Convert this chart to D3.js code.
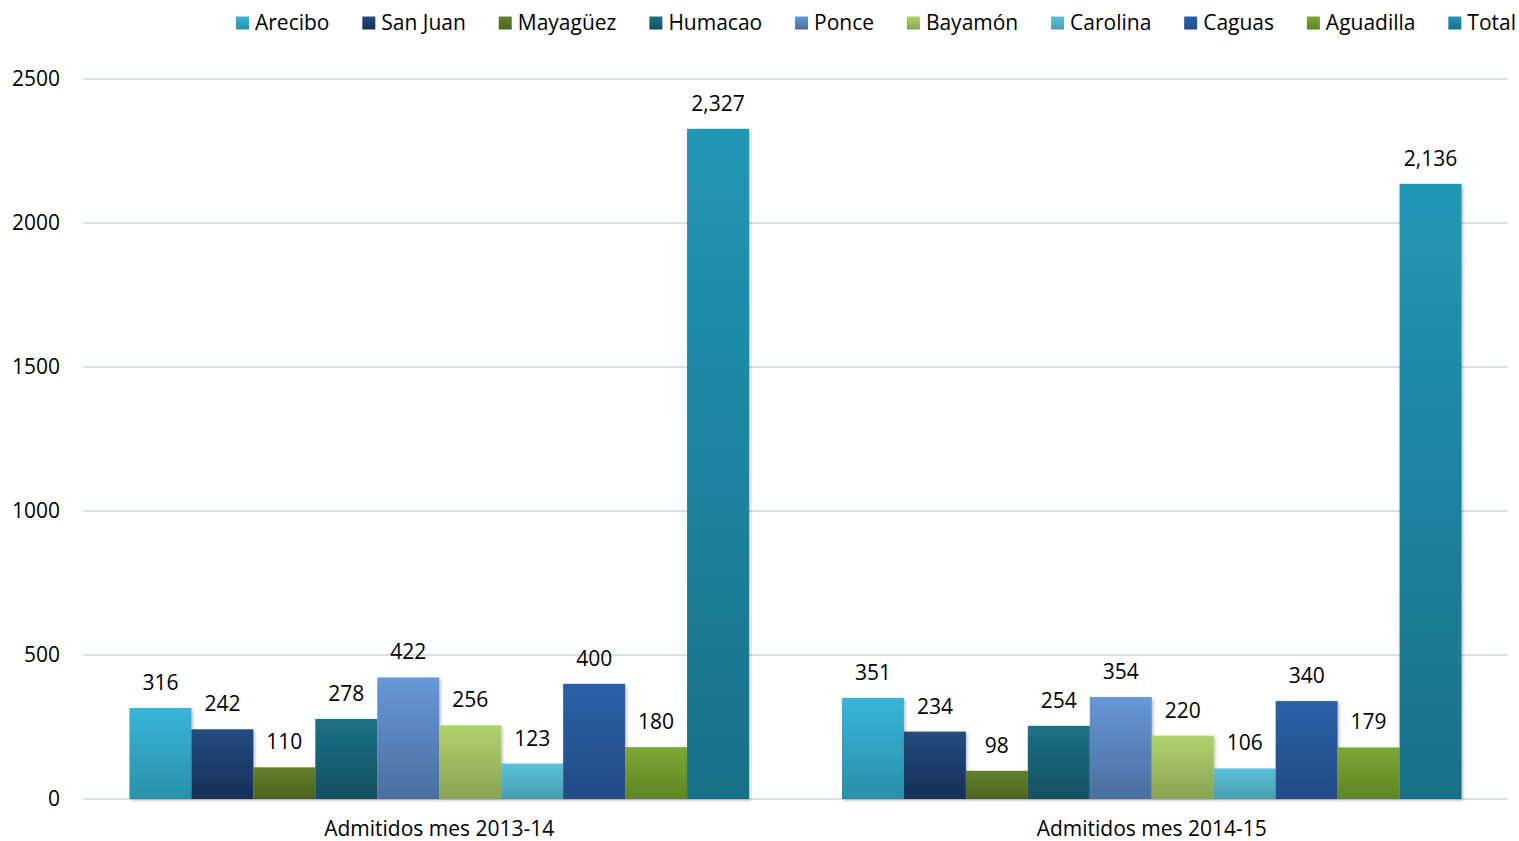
<!DOCTYPE html>
<html>
<head>
<meta charset="utf-8">
<script src="https://cdn.jsdelivr.net/npm/d3@7"></script>
<style>
  body { margin: 0; background: #fff; }
  text { font-family: 'Open Sans', Lato, sans-serif; fill: #000; }
</style>
</head>
<body>
<div id="chart"></div>
<script>
// data
const groups = ['Admitidos mes 2013-14', 'Admitidos mes 2014-15']
const regions = ['Arecibo', 'San Juan', 'Mayagüez', 'Humacao', 'Ponce', 'Bayamón', 'Carolina', 'Caguas', 'Aguadilla', 'Total']
const values2013 = [316, 242, 110, 278, 422, 256, 123, 400, 180, 2327]
const values2014 = [351, 234, 98, 254, 354, 220, 106, 340, 179, 2136]
const yTicks = [0, 500, 1000, 1500, 2000, 2500]

// top / bottom gradient colours per region
const colorTop = ['#38b5d9', '#234c80', '#63822b', '#1b7286', '#6698d8', '#b0d26c', '#5cc1da', '#2b61a8', '#7ea834', '#2197b6']
const colorBottom = ['#2990aa', '#172f58', '#4c631f', '#134f60', '#4a6e9e', '#88a354', '#479db2', '#224c86', '#5f8425', '#197088']

const FONT = "'Open Sans', Lato, sans-serif"
const FS = 21
const W = 1519, H = 841
const margin = { top: 79, left: 83, right: 11, bottom: 42 }
const width = W - margin.left - margin.right
const height = H - margin.top - margin.bottom

const rows = groups.map((g, i) => ({ group: g, values: i === 0 ? values2013 : values2014 }))

const svg = d3.select('#chart').append('svg')
  .attr('width', W).attr('height', H)

const defs = svg.append('defs')
regions.forEach((r, i) => {
  const lg = defs.append('linearGradient')
    .attr('id', 'grad' + i)
    .attr('x1', 0).attr('y1', 0).attr('x2', 0).attr('y2', 1)
  lg.append('stop').attr('offset', '0%').attr('stop-color', colorTop[i])
  lg.append('stop').attr('offset', '100%').attr('stop-color', colorBottom[i])
})
const shadow = defs.append('filter').attr('id', 'shadow')
  .attr('x', '-10%').attr('y', '-10%').attr('width', '130%').attr('height', '120%')
shadow.append('feDropShadow')
  .attr('dx', 1.5).attr('dy', 1.5).attr('stdDeviation', 1.5)
  .attr('flood-color', '#000').attr('flood-opacity', 0.25)

const g = svg.append('g').attr('transform', `translate(${margin.left},${margin.top})`)

const y = d3.scaleLinear().domain([0, 2500]).range([height, 0])
const x0 = d3.scaleBand().domain(groups).range([0, width])
// excel gap width 150%: 10 bars + 1.5 bar gap per category
const innerPad = x0.bandwidth() * 1.5 / 11.5
const x1 = d3.scaleBand().domain(regions)
  .range([innerPad / 2, x0.bandwidth() - innerPad / 2])

// gridlines
g.selectAll('.grid')
  .data(yTicks)
  .enter()
  .append('line')
  .attr('class', 'grid')
  .attr('x1', 0).attr('x2', width)
  .attr('y1', d => y(d)).attr('y2', d => y(d))
  .attr('stroke', '#d6e1ef')
  .attr('stroke-width', 2)

// y axis labels
const yAxis = g.append('g')
  .call(d3.axisLeft(y).tickValues(yTicks).tickSize(0).tickPadding(23).tickFormat(d3.format('d')))
yAxis.select('.domain').remove()
yAxis.selectAll('text').attr('font-size', FS).attr('font-family', FONT).attr('fill', '#000')

// x axis labels
const xAxis = g.append('g')
  .attr('transform', `translate(0,${height})`)
  .call(d3.axisBottom(x0).tickSize(0).tickPadding(22))
xAxis.select('.domain').remove()
xAxis.selectAll('text').attr('font-size', FS).attr('font-family', FONT).attr('fill', '#000')

// bars
const groupG = g.selectAll('.grp')
  .data(rows)
  .enter()
  .append('g')
  .attr('class', 'grp')
  .attr('transform', d => `translate(${x0(d.group)},0)`)

groupG.selectAll('rect')
  .data(d => d.values.map((v, i) => ({ region: regions[i], value: v, i: i })))
  .enter()
  .append('rect')
  .attr('x', d => x1(d.region))
  .attr('y', d => y(d.value))
  .attr('width', x1.bandwidth())
  .attr('height', d => height - y(d.value))
  .attr('fill', d => `url(#grad${d.i})`)
  .attr('filter', 'url(#shadow)')

groupG.selectAll('.val')
  .data(d => d.values.map((v, i) => ({ region: regions[i], value: v })))
  .enter()
  .append('text')
  .attr('class', 'val')
  .attr('x', d => x1(d.region) + x1.bandwidth() / 2)
  .attr('y', d => y(d.value) - 18)
  .attr('text-anchor', 'middle')
  .attr('font-size', FS)
  .text(d => d3.format(',')(d.value))

// legend
const legend = svg.append('g').attr('class', 'legend')
const entries = legend.selectAll('.legend-entry')
  .data(regions)
  .enter()
  .append('g')
  .attr('class', 'legend-entry')

entries.append('rect')
  .attr('width', 13).attr('height', 13)
  .attr('y', -6.5)
  .attr('fill', (d, i) => `url(#grad${i})`)

entries.append('text')
  .attr('x', 19)
  .attr('dy', '0.35em')
  .attr('font-size', FS)
  .text(d => d)

// spread legend between its left start and the right edge
const widths = []
entries.each(function() { widths.push(this.getBBox().width) })
const legendLeft = 236, legendRight = 1516
const gap = (legendRight - legendLeft - d3.sum(widths)) / (widths.length - 1)
let lx = legendLeft
entries.attr('transform', (d, i) => {
  const t = `translate(${lx},23)`
  lx += widths[i] + gap
  return t
})
</script>
</body>
</html>
